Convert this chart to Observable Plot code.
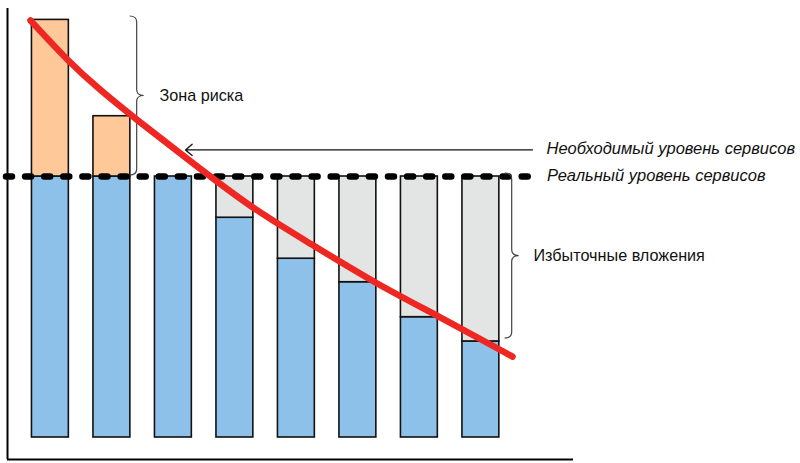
<!DOCTYPE html>
<html><head><meta charset="utf-8">
<script src="https://cdn.jsdelivr.net/npm/d3@7"></script>
<script src="https://cdn.jsdelivr.net/npm/@observablehq/plot@0.6"></script>
<style>body{margin:0;background:#fff;}</style>
</head><body><div id="chart"></div>
<script>
// ---- data (arbitrary units: real service level = 100) ----
const positions = [1, 2, 3, 4, 5, 6, 7, 8];
const realLevel = 100;
const neededLevel = 110.2;
const baseValues = [100, 100, 100, 84.2, 68.5, 59.5, 46.1, 36.8];   // blue part
const riskTops   = [160, 123.1, 100, 100, 100, 100, 100, 100];      // top of orange part
const curveX = [0.676, 1.278, 1.815, 2.416, 3.197, 4.254, 5.23, 6.287, 7.295, 8.514];
const curveY = [159.8, 144.4, 132.9, 121.5, 107.3, 88.1, 74.3, 59.0, 46.7, 31.0];
const labels = ["Зона риска", "Избыточные вложения", "Необходимый уровень сервисов", "Реальный уровень сервисов"];
const xDomain = [0.3024, 9.506];
const yDomain = [-8.43, 164.37];
const realSpan = [0.286, 8.774];
const neededSpan = [8.839, 3.197];
const braces = [
  {x: 2.411, y1: 100.4, y2: 161.3},
  {x: 8.509, y1: 37.9, y2: 101.1}
];
const labelAnchors = [
  {x: 2.774, y: 130.85, italic: false},
  {x: 8.855, y: 69.5, italic: false},
  {x: 9.067, y: neededLevel, italic: true},
  {x: 9.075, y: realLevel, italic: true}
];

// ---- build table ----
const colors = {base: "#8ec1e9", excess: "#e3e4e4", risk: "#fec898"};
const segments = [];
positions.forEach((p, i) => {
  segments.push({x: p, y1: 0, y2: baseValues[i], kind: "base"});
  if (baseValues[i] < realLevel) segments.push({x: p, y1: baseValues[i], y2: realLevel, kind: "excess"});
  if (riskTops[i] > realLevel) segments.push({x: p, y1: realLevel, y2: riskTops[i], kind: "risk"});
});
const curve = curveX.map((x, i) => ({x, y: curveY[i]}));
const textData = labels.map((t, i) => ({...labelAnchors[i], text: t}));

function braceMark(index, scales) {
  const g = d3.create("svg:g");
  for (const b of braces) {
    const xv = scales.x(b.x);
    const yt = scales.y(b.y2), yb = scales.y(b.y1), ym = (yt + yb) / 2;
    const w = 7, t = 7, r = 6;
    const p = d3.path();
    p.moveTo(xv - w, yt);
    p.quadraticCurveTo(xv, yt, xv, yt + r);
    p.lineTo(xv, ym - r);
    p.quadraticCurveTo(xv, ym, xv + t, ym);
    p.quadraticCurveTo(xv, ym, xv, ym + r);
    p.lineTo(xv, yb - r);
    p.quadraticCurveTo(xv, yb, xv - w, yb);
    g.append("path").attr("d", p.toString()).attr("fill", "none")
      .attr("stroke", "#444").attr("stroke-width", 1.2);
  }
  return g.node();
}

const chart = Plot.plot({
  width: 800, height: 463,
  marginLeft: 7, marginRight: 227, marginTop: 8, marginBottom: 4,
  x: {domain: xDomain, axis: null},
  y: {domain: yDomain, axis: null},
  style: {background: "white", fontFamily: "'Liberation Sans', Arial, sans-serif", fontSize: "16px", overflow: "visible"},
  marks: [
    Plot.rect(segments, {
      x1: d => d.x - 0.3, x2: d => d.x + 0.3, y1: "y1", y2: "y2",
      fill: d => colors[d.kind], stroke: "#111", strokeWidth: 1.6
    }),
    Plot.ruleX([xDomain[0]], {y1: yDomain[0], y2: yDomain[1], stroke: "#000", strokeWidth: 2}),
    Plot.ruleY([yDomain[0]], {x1: xDomain[0], x2: xDomain[1], stroke: "#000", strokeWidth: 2}),
    Plot.ruleY([realLevel], {x1: realSpan[0], x2: realSpan[1], stroke: "#000", strokeWidth: 6.5,
      strokeDasharray: "6,13.1", strokeLinecap: "round"}),
    Plot.arrow([neededLevel], {x1: neededSpan[0], x2: neededSpan[1], y1: d => d, y2: d => d,
      stroke: "#111", strokeWidth: 1.3, headAngle: 80, headLength: 10}),
    braceMark,
    Plot.text(textData.filter(d => !d.italic), {x: "x", y: "y", text: "text", textAnchor: "start", fontSize: 16.2, fill: "#111"}),
    Plot.text(textData.filter(d => d.italic), {x: "x", y: "y", text: "text", textAnchor: "start", fontSize: 16.5, fontStyle: "italic", fill: "#111", dy: -1}),
    Plot.line(curve, {x: "x", y: "y", curve: "basis", stroke: "#ee2722", strokeWidth: 6.5, strokeLinecap: "round"})
  ]
});
document.getElementById("chart").appendChild(chart);
</script>
</body></html>
